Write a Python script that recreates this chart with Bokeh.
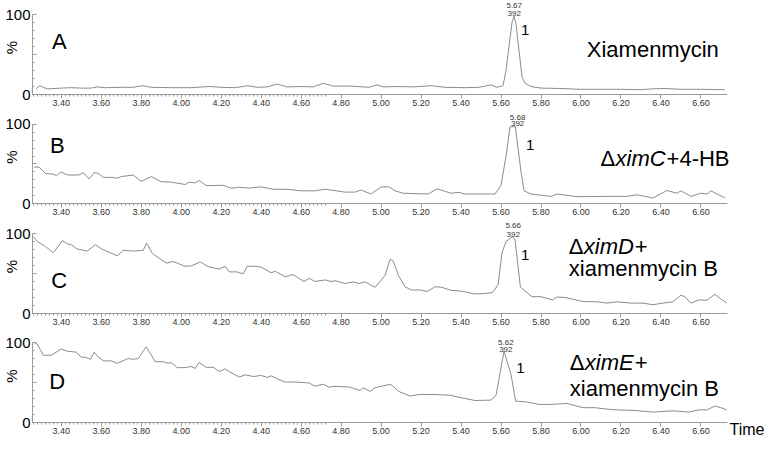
import math
from bokeh.plotting import figure
from bokeh.layouts import column
from bokeh.models import Range1d, FixedTicker, Label, Title
from bokeh.embed import file_html
from bokeh.resources import INLINE

# ---------------- data ----------------
time_a = [3.275, 3.29, 3.33, 3.40, 3.45, 3.50, 3.55, 3.58, 3.62, 3.70, 3.76, 3.805, 3.85, 3.95,
          4.05, 4.14, 4.20, 4.27, 4.33, 4.38, 4.43, 4.48, 4.53, 4.60, 4.66, 4.71, 4.76, 4.85,
          4.94, 4.98, 5.01, 5.08, 5.16, 5.25, 5.32, 5.42, 5.49, 5.55, 5.58, 5.61, 5.625, 5.64,
          5.655, 5.665, 5.675, 5.69, 5.705, 5.72, 5.75, 5.80, 5.90, 6.00, 6.10, 6.20, 6.30,
          6.35, 6.42, 6.50, 6.60, 6.72]
int_a = [7, 11, 7, 8, 8.5, 8, 8, 9.5, 8.5, 9, 9, 11, 9, 8.5,
         8.5, 10, 9, 8.5, 11, 9, 9.5, 13, 9.5, 10, 9.5, 14, 10.5, 10.5,
         9, 12, 9.5, 10, 9.5, 11, 9, 8.5, 9, 12, 9, 11, 30, 60,
         90, 98, 88, 55, 22, 14, 10, 8, 7.5, 6.5, 6.5, 6.5, 6,
         7, 7.5, 6.5, 6.5, 6]

time_b = [3.264, 3.29, 3.32, 3.36, 3.377, 3.397, 3.43, 3.487, 3.51, 3.54, 3.565, 3.585, 3.61,
          3.65, 3.68, 3.70, 3.76, 3.80, 3.85, 3.90, 3.95, 4.02, 4.04, 4.07, 4.09, 4.125, 4.21,
          4.25, 4.29, 4.34, 4.40, 4.46, 4.53, 4.60, 4.67, 4.72, 4.82, 4.87, 4.90, 4.95, 5.00,
          5.04, 5.07, 5.11, 5.235, 5.28, 5.35, 5.39, 5.42, 5.57, 5.60, 5.625, 5.645, 5.672,
          5.685, 5.70, 5.715, 5.75, 5.85, 5.88, 5.98, 6.12, 6.23, 6.28, 6.36, 6.43, 6.48,
          6.50, 6.55, 6.60, 6.63, 6.65, 6.72]
int_b = [46, 46, 38, 37, 35, 40, 36, 36, 39, 31, 39, 38, 33,
         33, 32, 34, 36, 28, 34, 27.5, 27, 24, 27, 26, 29, 22.6, 23,
         19.3, 20.5, 19.5, 21, 18, 18, 16, 16, 18, 14.4, 14.4, 17, 12, 21,
         21, 16, 13, 12, 18.5, 13, 14, 12, 12, 23, 60, 97, 97,
         70, 40, 16, 12, 9, 12, 8.6, 9, 9, 11, 7, 16.5, 13,
         16, 9, 13, 12, 16, 7]

time_c = [3.26, 3.28, 3.32, 3.36, 3.405, 3.43, 3.45, 3.476, 3.53, 3.57, 3.60, 3.68, 3.71, 3.76,
          3.81, 3.827, 3.856, 3.925, 3.96, 4.02, 4.05, 4.096, 4.135, 4.19, 4.22, 4.24, 4.28,
          4.31, 4.33, 4.37, 4.40, 4.45, 4.47, 4.52, 4.56, 4.614, 4.64, 4.67, 4.72, 4.75, 4.77,
          4.82, 4.86, 4.89, 4.92, 4.97, 5.02, 5.045, 5.06, 5.087, 5.12, 5.15, 5.20, 5.23, 5.27,
          5.30, 5.35, 5.40, 5.467, 5.50, 5.557, 5.585, 5.605, 5.625, 5.657, 5.67, 5.697, 5.72,
          5.755, 5.80, 5.857, 5.88, 5.92, 6.01, 6.08, 6.13, 6.18, 6.25, 6.31, 6.36, 6.41,
          6.46, 6.50, 6.52, 6.55, 6.59, 6.63, 6.67, 6.70, 6.73]
int_c = [96, 90, 84, 76, 91, 87, 86, 81, 78, 86, 81, 72, 79, 78,
         79, 88, 75, 63, 65, 59, 59.5, 64.5, 58.5, 55.7, 59, 52, 52,
         49.6, 59, 59, 58, 51, 52.7, 46, 48.6, 40, 44, 40, 42, 40, 41,
         37.5, 39.5, 37.5, 39.5, 32.7, 47.6, 67.8, 66, 47.6, 33.4, 29.4, 29.4, 27.4, 33.4,
         33, 29, 28, 24.6, 24.6, 26, 36, 76, 90, 96, 92, 33, 28,
         21, 21, 17, 20.6, 20, 15, 14.6, 13, 14.6, 13, 13, 11, 13,
         14.6, 23, 21, 13, 17, 16.5, 24, 18, 13]

time_d = [3.264, 3.28, 3.31, 3.35, 3.40, 3.43, 3.475, 3.50, 3.52, 3.546, 3.565, 3.58, 3.61,
          3.65, 3.68, 3.735, 3.76, 3.785, 3.825, 3.87, 3.91, 3.935, 3.95, 3.98, 4.02, 4.05,
          4.07, 4.09, 4.125, 4.16, 4.19, 4.22, 4.24, 4.29, 4.32, 4.36, 4.40, 4.43, 4.45, 4.48,
          4.52, 4.57, 4.64, 4.67, 4.71, 4.74, 4.76, 4.84, 4.895, 4.91, 4.945, 4.97, 5.036,
          5.05, 5.087, 5.144, 5.19, 5.27, 5.35, 5.38, 5.42, 5.47, 5.55, 5.575, 5.615, 5.65,
          5.673, 5.72, 5.79, 5.85, 5.93, 6.01, 6.07, 6.12, 6.16, 6.27, 6.36, 6.46, 6.54,
          6.59, 6.63, 6.67, 6.70, 6.73]
int_d = [100, 98, 84, 84, 92, 89, 88, 81.5, 81.5, 79, 88, 83, 77,
         77, 74, 80, 79, 80, 94.7, 76, 76, 74, 75, 68.6, 68.6, 70,
         67.6, 75, 69, 69, 63.7, 67, 63.7, 56.8, 59.6, 57.5, 58.8, 56.4, 58.3, 54.7,
         50.6, 50.6, 49.4, 45.2, 48, 44, 45.2, 44.4, 40, 43.5, 39, 43.5, 47.3,
         47.3, 39, 33, 35, 35, 34, 32, 30, 27.5, 28, 34, 89, 60,
         26.7, 26, 22.6, 22.6, 23.8, 18.5, 18.5, 17, 16, 15, 13, 14.6, 13,
         15.8, 15.8, 20.5, 18.5, 15.8]

panel_letters = ["A", "B", "C", "D"]
peak_times = ["5.67", "5.68", "5.66", "5.62"]
peak_mass = ["392", "392", "392", "392"]
x_tick_values = [3.4, 3.6, 3.8, 4.0, 4.2, 4.4, 4.6, 4.8, 5.0, 5.2, 5.4, 5.6, 5.8, 6.0, 6.2, 6.4, 6.6]
x_tick_labels = ["3.40", "3.60", "3.80", "4.00", "4.20", "4.40", "4.60", "4.80", "5.00",
                 "5.20", "5.40", "5.60", "5.80", "6.00", "6.20", "6.40", "6.60"]
y_tick_values = [0, 50, 100]
y_tick_labels = ["0", "", "100"]
x_title = "Time"
y_title = "%"

# ---------------- layout / style ----------------
FONT = "Liberation Sans"
LINE = "#8c8c8c"
AXIS = "#9a9a9a"
PX = 201.25            # pixels per minute
X0 = 3.256
W = 764
LEFT = 27
X1 = X0 + (W - LEFT) / PX
heights = [110, 109, 110, 109]
tops = [14, 14, 14, 13]
BOTTOM = 16
BIG = "22px"

traces = [(time_a, int_a), (time_b, int_b), (time_c, int_c), (time_d, int_d)]

letter_pos = [(3.39, 66), (3.38, 73), (3.39, 41.5), (3.38, 51)]
peak_lab_pos = [(5.666, 111.5, 101), (5.683, 108.5, 100.5), (5.661, 109.6, 99), (5.624, 99.4, 90.7)]
one_pos = [(5.70, 80.5), (5.725, 74), (5.70, 73), (5.676, 68)]

figs = []
for i, (tt, vv) in enumerate(traces):
    h = heights[i]
    ymax = 100 + tops[i] * 100 / 80
    p = figure(width=W, height=h, output_backend="svg", toolbar_location=None,
               x_range=Range1d(X0, X1), y_range=Range1d(0, ymax),
               min_border_left=LEFT, min_border_right=0, min_border_top=0,
               min_border_bottom=BOTTOM)
    p.outline_line_color = None
    p.grid.visible = False
    p.background_fill_color = "white"
    p.border_fill_color = "white"

    p.line(tt, vv, line_color=LINE, line_width=1)

    # x axis
    xa = p.xaxis[0]
    xa.ticker = FixedTicker(ticks=x_tick_values,
                            minor_ticks=[round(3.26 + 0.02 * k, 2) for k in range(0, 74)])
    xa.major_label_overrides = {v: s for v, s in zip(x_tick_values, x_tick_labels)}
    xa.bounds = (X0, 6.734)
    xa.axis_line_color = AXIS
    xa.major_tick_line_color = AXIS
    xa.minor_tick_line_color = AXIS
    xa.major_tick_out = 4
    xa.major_tick_in = 0
    xa.minor_tick_out = 2
    xa.minor_tick_in = 0
    xa.major_label_standoff = 1
    xa.major_label_text_font = FONT
    xa.major_label_text_font_size = "9px"
    xa.major_label_text_color = "#333333"

    # y axis
    ya = p.yaxis[0]
    ya.ticker = FixedTicker(ticks=y_tick_values, minor_ticks=[10, 20, 30, 40, 60, 70, 80, 90])
    ya.major_label_overrides = {v: s for v, s in zip(y_tick_values, y_tick_labels)}
    ya.bounds = (0, 100)
    ya.axis_line_color = AXIS
    ya.major_tick_line_color = AXIS
    ya.minor_tick_line_color = AXIS
    ya.major_tick_in = 4
    ya.major_tick_out = 0
    ya.minor_tick_in = 2
    ya.minor_tick_out = 0
    ya.major_label_standoff = 2
    ya.major_label_text_font = FONT
    ya.major_label_text_font_size = "15px"
    ya.major_label_text_color = "black"
    ya.axis_label = y_title
    ya.axis_label_standoff = -18
    ya.axis_label_text_font = FONT
    ya.axis_label_text_font_size = "15px"
    ya.axis_label_text_font_style = "normal"
    ya.axis_label_text_color = "black"

    # panel letter
    lx, ly = letter_pos[i]
    p.add_layout(Label(x=lx, y=ly, text=panel_letters[i], text_align="center",
                       text_baseline="middle", text_font=FONT, text_font_size=BIG,
                       text_color="black"))

    # peak annotation
    px_, py1, py2 = peak_lab_pos[i]
    p.add_layout(Label(x=px_, y=py1, text=peak_times[i], text_align="center",
                       text_baseline="alphabetic", text_font=FONT, text_font_size="8px",
                       text_color="#333333"))
    p.add_layout(Label(x=px_, y=py2, text=peak_mass[i], text_align="center",
                       text_baseline="alphabetic", text_font=FONT, text_font_size="8px",
                       text_color="#333333"))
    ox, oy = one_pos[i]
    p.add_layout(Label(x=ox, y=oy, text="1", text_align="left",
                       text_baseline="alphabetic", text_font=FONT, text_font_size="15px",
                       text_color="black"))
    figs.append(p)

def add_text(p, x, y, text, style="normal", xoff=0, size=BIG):
    p.add_layout(Label(x=x, y=y, x_offset=xoff, text=text, text_align="left",
                       text_baseline="alphabetic", text_font=FONT, text_font_size=size,
                       text_font_style=style, text_color="black"))

# sample descriptions
add_text(figs[0], 6.029, 56.5, "Xiamenmycin")

add_text(figs[1], 6.098, 56.8, "\u0394")
add_text(figs[1], 6.098, 56.8, "ximC", style="italic", xoff=15)
add_text(figs[1], 6.098, 56.8, "+4-HB", xoff=66)

add_text(figs[2], 5.939, 84, "\u0394")
add_text(figs[2], 5.939, 84, "ximD", style="italic", xoff=15)
add_text(figs[2], 5.939, 84, "+", xoff=66)
add_text(figs[2], 5.939, 56, "xiamenmycin B")

add_text(figs[3], 5.944, 75, "\u0394")
add_text(figs[3], 5.944, 75, "ximE", style="italic", xoff=15)
add_text(figs[3], 5.944, 75, "+", xoff=65)
add_text(figs[3], 5.944, 43, "xiamenmycin B")

# x axis title "Time" at the right end of the bottom axis
time_title = Title(text=x_title, align="right", vertical_align="top", standoff=-32,
                   offset=0, text_font=FONT, text_font_size="16px",
                   text_font_style="normal", text_color="black")
figs[3].add_layout(time_title, "below")

layout = column(*figs, spacing=0)
open("out.html", "w").write(file_html(layout, INLINE))
